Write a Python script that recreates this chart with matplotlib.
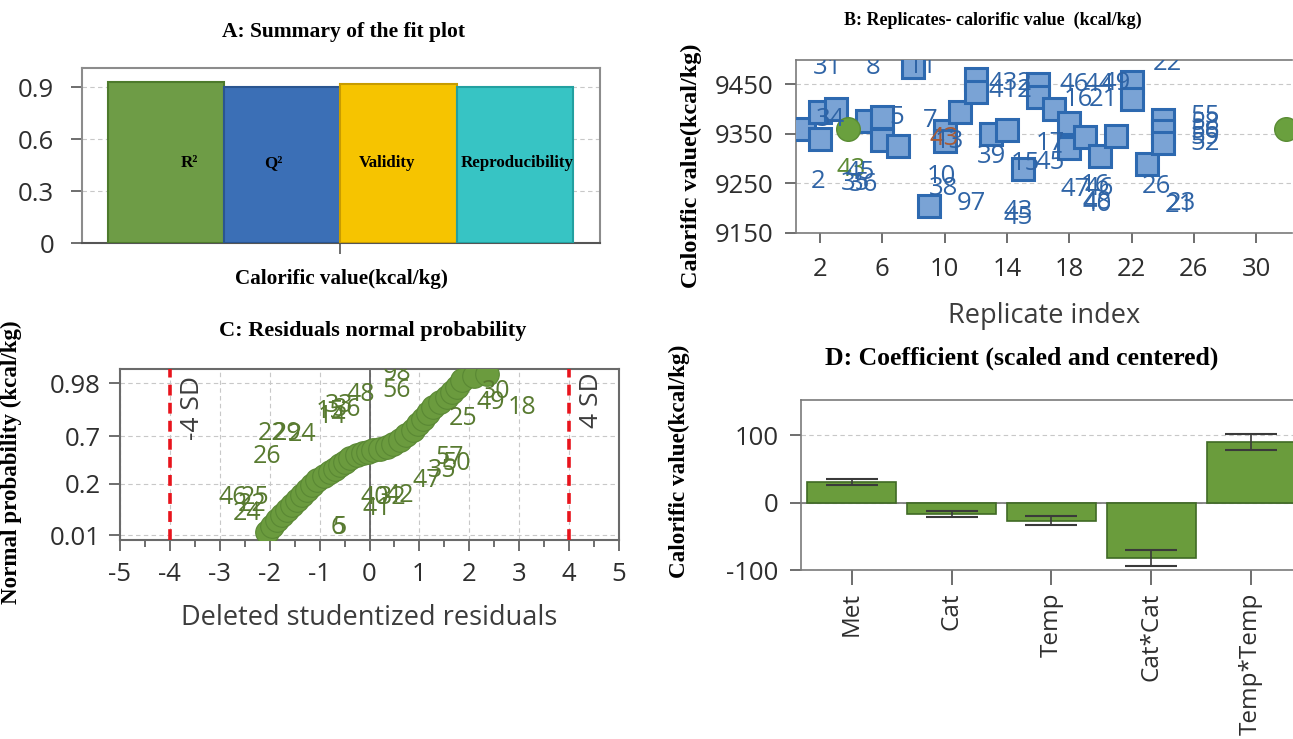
import matplotlib.pyplot as plt
from statistics import NormalDist

plt.rcParams['font.family'] = ['Open Sans', 'DejaVu Sans']
plt.rcParams['axes.unicode_minus'] = False

# --- A: summary of fit ---
fit_names = ['R²', 'Q²', 'Validity', 'Reproducibility']
fit_values = [0.93, 0.90, 0.918, 0.90]

# --- B: replicates ---
rep_x = [1, 2, 2, 3, 5, 6, 6, 7, 8, 9, 10, 10, 11, 12, 12, 13, 14, 15, 16, 16,
         17, 18, 18, 19, 20, 21, 22, 22, 23, 24, 24, 24]
rep_y = [9360, 9395, 9340, 9400, 9375, 9385, 9338, 9325, 9485, 9205, 9355, 9335,
         9395, 9460, 9435, 9350, 9358, 9280, 9450, 9425, 9400, 9372, 9322, 9343,
         9305, 9345, 9455, 9420, 9290, 9378, 9355, 9332]
rep_mean_x = [3.8, 31.9]
rep_mean_y = [9360, 9360]
rep_text = ['31', '8', '11', '22', '34', '5', '2', '43', '45', '35', '36', '7', '43', '13',
            '10', '38', '97', '43', '45', '412', '432', '39', '15', '17', '45', '46', '44',
            '49', '16', '21', '47', '46', '16', '40', '48', '26', '23', '21',
            '55', '58', '56', '59', '52']
rep_text_x = [2.5, 5.4, 8.6, 24.3, 2.7, 6.9, 1.9, 4.0, 4.6, 4.3, 4.8, 9.1, 10.0, 10.3,
              9.8, 9.9, 11.7, 14.7, 14.7, 14.2, 14.2, 13.0, 15.2, 16.8, 16.8, 18.3, 19.9,
              21.0, 18.6, 20.2, 18.4, 19.9, 19.7, 19.8, 19.8, 23.6, 25.2, 25.1,
              26.7, 26.7, 26.7, 26.7, 26.7]
rep_text_y = [9483, 9483, 9485, 9491, 9378, 9382, 9253, 9278, 9272, 9250, 9248, 9376,
              9340, 9335, 9263, 9239, 9209, 9194, 9182, 9438, 9452, 9305, 9291, 9330,
              9293, 9450, 9450, 9452, 9420, 9420, 9237, 9240, 9245, 9208, 9212, 9243,
              9209, 9205, 9385, 9370, 9355, 9342, 9330]
rep_text_color = ['b'] * len(rep_text)
rep_text_color[7] = 'g'
rep_text_color[12] = 'r'

# --- C: residuals normal probability ---
resid = [-2.05, -1.95, -1.85, -1.75, -1.65, -1.55, -1.45, -1.35, -1.25, -1.15,
         -1.05, -0.92, -0.79, -0.69, -0.59, -0.49, -0.39, -0.26, -0.13, -0.03,
         0.07, 0.21, 0.35, 0.48, 0.61, 0.74, 0.87, 0.97, 1.07, 1.17,
         1.27, 1.41, 1.55, 1.65, 1.75, 1.85, 2.10, 2.35]
prob = [0.0125, 0.0197, 0.0294, 0.040, 0.0537, 0.072, 0.093, 0.121, 0.152, 0.189,
        0.230, 0.268, 0.305, 0.341, 0.378, 0.417, 0.456, 0.488, 0.516, 0.532,
        0.548, 0.564, 0.583, 0.622, 0.659, 0.709, 0.758, 0.808, 0.848, 0.885,
        0.913, 0.933, 0.951, 0.964, 0.974, 0.984, 0.988, 0.990]
res_text = ['98', '56', '48', '15', '36', '33', '14', '22', '29', '24', '26',
            '46', '25', '22', '24', '6', '5', '40', '32', '42', '41',
            '47', '35', '50', '57', '30', '49', '18', '25']
res_text_x = [0.55, 0.55, -0.17, -0.8, -0.45, -0.6, -0.75, -1.95, -1.65, -1.35, -2.05,
              -2.75, -2.3, -2.35, -2.45, -0.63, -0.6, 0.1, 0.45, 0.6, 0.15,
              1.15, 1.45, 1.75, 1.6, 2.53, 2.43, 3.06, 1.87]
res_text_p = [0.99, 0.968, 0.959, 0.89, 0.903, 0.92, 0.865, 0.725, 0.725, 0.72, 0.47,
              0.105, 0.105, 0.074, 0.045, 0.017, 0.018, 0.105, 0.105, 0.115, 0.06,
              0.227, 0.325, 0.40, 0.46, 0.966, 0.933, 0.913, 0.846]

# --- D: coefficients ---
terms = ['Met', 'Cat', 'Temp', 'Cat*Cat', 'Temp*Temp']
coef = [30, -17, -27, -82, 90]
coef_err = [4.5, 5, 7, 11.5, 11.5]

W, H = 1293, 739
fig = plt.figure(figsize=(W / 100, H / 100), dpi=100)


def box(l, t, r, b):
    return [l / W, 1 - b / H, (r - l) / W, (b - t) / H]


serif = dict(family='Liberation Serif', weight='bold')
tick_col = '#2e2e2e'
grid_kw = dict(color='#c8c8c8', linestyle=(0, (4, 3)), linewidth=0.8)


def style_axes(ax, spine_col='#7a7a7a', lw=1.2):
    for s in ax.spines.values():
        s.set_color(spine_col)
        s.set_linewidth(lw)
    ax.tick_params(labelsize=18.5, colors='#555555', labelcolor=tick_col,
                   length=8, width=1.2, pad=6)


# A
axA = fig.add_axes(box(82, 68, 600, 243))
fit_colors = ['#6e9c46', '#3b6fb6', '#f6c400', '#37c4c4']
fit_edges = ['#4d7a2c', '#2a5590', '#c89c00', '#22a0a0']
axA.bar(range(4), fit_values, width=1.0, color=fit_colors, edgecolor=fit_edges,
        linewidth=1.5, zorder=3)
label_pos = [0.2, -0.08, -0.1, 0.02]
for i, name in enumerate(fit_names):
    axA.text(i + label_pos[i], 0.46, name, ha='center', va='center', fontsize=12.2,
             zorder=4, **serif)
axA.set_xlim(-0.72, 3.73)
axA.set_ylim(0, 1.01)
axA.set_yticks([0, 0.3, 0.6, 0.9])
axA.set_yticklabels(['0', '0.3', '0.6', '0.9'])
axA.set_xticks([1.5])
axA.set_xticklabels([''])
axA.yaxis.grid(True, **grid_kw)
axA.set_axisbelow(True)
style_axes(axA, '#8c8c8c', 1.5)
axA.spines['bottom'].set_color('#555555')
axA.tick_params(axis='y', pad=12)
axA.set_xlabel('Calorific value(kcal/kg)', fontsize=15.2, labelpad=5, **serif)
fig.text(343 / W, 1 - 32 / H, 'A: Summary of the fit plot', ha='center', va='center',
         fontsize=15.5, **serif)

# B
axB = fig.add_axes(box(796, 60, 1292, 233))
axB.plot(rep_x, rep_y, 's', markersize=16, markerfacecolor='#7aa3d5',
         markeredgecolor='#2d69b0', markeredgewidth=2.2, zorder=3, clip_on=True)
axB.plot(rep_mean_x, rep_mean_y, 'o', markersize=17, markerfacecolor='#6aa03e',
         markeredgecolor='#5a8c34', zorder=3)
text_cols = {'b': '#2f64a6', 'g': '#5c8a34', 'r': '#a85a35'}
for t, x, y, c in zip(rep_text, rep_text_x, rep_text_y, rep_text_color):
    axB.text(x, y, t, ha='center', va='center', fontsize=18.5, color=text_cols[c],
             zorder=4, clip_on=True)
axB.set_xlim(0.46, 32.3)
axB.set_ylim(9150, 9499)
axB.set_xticks([2, 6, 10, 14, 18, 22, 26, 30])
axB.set_yticks([9150, 9250, 9350, 9450])
axB.yaxis.grid(True, **grid_kw)
axB.set_axisbelow(True)
style_axes(axB)
axB.spines['right'].set_visible(False)
axB.tick_params(axis='y', pad=8)
axB.tick_params(axis='x', pad=10, length=7)
axB.set_xlabel('Replicate index', fontsize=19.5, color='#3c3c3c', labelpad=15)
axB.set_ylabel('Calorific value(kcal/kg)', fontsize=17.5, **serif)
axB.yaxis.set_label_coords(-0.19, 0.39)
fig.text(993 / W, 1 - 20 / H, 'B: Replicates- calorific value  (kcal/kg)', ha='center',
         va='center', fontsize=13, **serif)

# C
nd = NormalDist()
axC = fig.add_axes(box(120, 369, 619, 540))
axC.axvline(0, color='#555555', linewidth=1.2, zorder=2)
for xv in (-4, 4):
    axC.axvline(xv, color='#e8141c', linewidth=2.6, linestyle=(0, (3, 2)), zorder=3)
axC.plot(resid, [nd.inv_cdf(p) for p in prob], 'o', markersize=17,
         markerfacecolor='#6b9b3e', markeredgecolor='#5a8834', markeredgewidth=0.8,
         zorder=4)
for t, x, p in zip(res_text, res_text_x, res_text_p):
    axC.text(x, nd.inv_cdf(p), t, ha='center', va='center', fontsize=18,
             color='#587a30', zorder=5, clip_on=True)
axC.text(-3.55, 2.25, '-4 SD', rotation=90, ha='center', va='top', fontsize=19,
         color='#3c3c3c', zorder=5)
axC.text(4.44, 2.35, '4 SD', rotation=90, ha='center', va='top', fontsize=19,
         color='#3c3c3c', zorder=5)
c_ticks = [0.01, 0.2, 0.7, 0.98]
axC.set_yticks([nd.inv_cdf(p) for p in c_ticks])
axC.set_yticklabels(['0.01', '0.2', '0.7', '0.98'])
axC.set_xticks(range(-5, 6))
axC.set_xticks([v + 0.5 for v in range(-5, 5)], minor=True)
axC.set_xlim(-5, 5)
axC.set_ylim(-2.47, 2.46)
axC.grid(True, **grid_kw)
axC.set_axisbelow(True)
style_axes(axC, '#6a6a6a', 1.5)
axC.tick_params(axis='x', which='minor', length=5, width=1.2, colors='#555555')
axC.tick_params(axis='x', pad=8)
axC.tick_params(axis='y', pad=6)
axC.set_xlabel('Deleted studentized residuals', fontsize=19.5, color='#3c3c3c',
               labelpad=12)
axC.set_ylabel('Normal probability (kcal/kg)', fontsize=16.6, **serif)
axC.yaxis.set_label_coords(-0.196, 0.456)
fig.text(373 / W, 1 - 331 / H, 'C: Residuals normal probability', ha='center',
         va='center', fontsize=16, **serif)

# D
axD = fig.add_axes(box(801, 400, 1293, 570))
axD.axhline(0, color='#777777', linewidth=1.2, zorder=2)
axD.bar(range(len(terms)), coef, width=0.89, color='#6a9c3c', edgecolor='#3f6a25',
        linewidth=1.2, zorder=3)
axD.errorbar(range(len(terms)), coef, yerr=coef_err, fmt='none', ecolor='#3a3a3a',
             elinewidth=1.2, capsize=19, capthick=1.5, zorder=4)
axD.set_xticks(range(len(terms)))
axD.set_xticklabels(terms, rotation=90)
axD.set_yticks([-100, 0, 100])
axD.set_xlim(-0.51, 4.42)
axD.set_ylim(-100, 152)
axD.yaxis.grid(True, **grid_kw)
axD.set_axisbelow(True)
style_axes(axD)
axD.spines['right'].set_visible(False)
axD.tick_params(axis='x', length=11, pad=5, labelsize=17.5)
axD.tick_params(axis='y', pad=8)
axD.set_ylabel('Calorific value(kcal/kg)', fontsize=16.7, **serif)
axD.yaxis.set_label_coords(-0.226, 0.64)
fig.text(1022 / W, 1 - 358 / H, 'D: Coefficient (scaled and centered)', ha='center',
         va='center', fontsize=18.5, **serif)

fig.savefig('out.png', dpi=100)
